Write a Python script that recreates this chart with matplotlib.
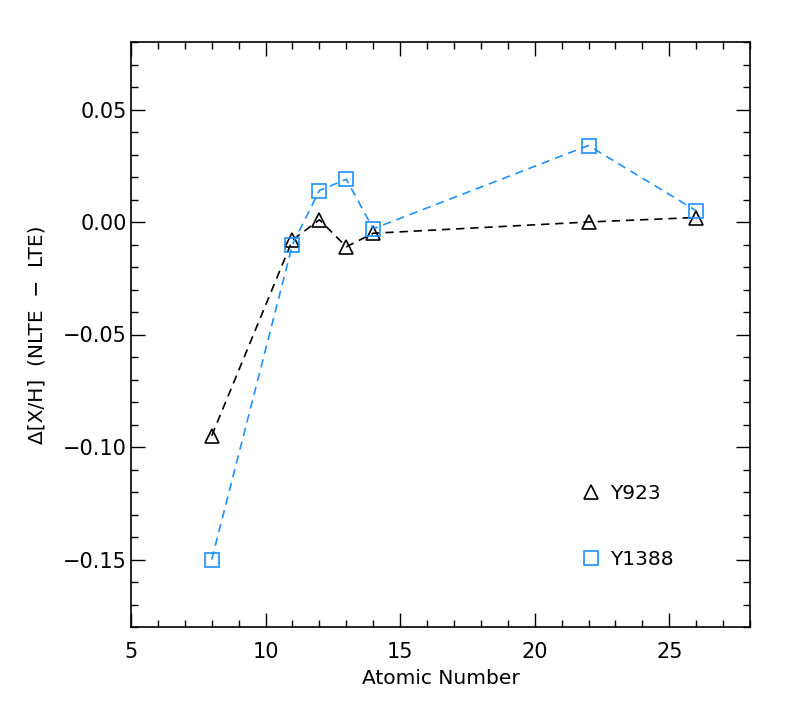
import matplotlib
matplotlib.use("Agg")
import matplotlib.pyplot as plt
from matplotlib.ticker import MultipleLocator
from matplotlib.lines import Line2D

# Data
atomic_number = [8, 11, 12, 13, 14, 22, 26]
y923 = [-0.095, -0.008, 0.001, -0.011, -0.005, 0.000, 0.002]
y1388 = [-0.150, -0.010, 0.014, 0.019, -0.003, 0.034, 0.005]
labels = ["Y923", "Y1388"]
colors = ["black", "#1E90FF"]

plt.rcParams['font.family'] = ['DejaVu Sans']
fig = plt.figure(figsize=(7.89, 7.11), dpi=100)
ax = fig.add_axes([131/789, 1-627/711, (750-131)/789, (627-42)/711])

ax.plot(atomic_number, y923, ls=(0, (5, 3.5)), lw=1.2, color=colors[0],
        marker='^', ms=10, mfc='none', mec=colors[0], mew=1.2, label=labels[0])
ax.plot(atomic_number, y1388, ls=(0, (5, 3.5)), lw=1.2, color=colors[1],
        marker='s', ms=10, mfc='none', mec=colors[1], mew=1.2, label=labels[1])

ax.set_xlim(5, 28)
ax.set_ylim(-0.18, 0.08)
ax.xaxis.set_major_locator(MultipleLocator(5))
ax.xaxis.set_minor_locator(MultipleLocator(1))
ax.yaxis.set_major_locator(MultipleLocator(0.05))
ax.yaxis.set_minor_locator(MultipleLocator(0.01))
ax.yaxis.set_major_formatter(plt.FuncFormatter(lambda v, p: f"{v:.2f}".replace("-", "\u2212")))
ax.tick_params(which='both', direction='in', top=True, right=True, width=1.0, labelsize=15)
ax.tick_params(axis='x', which='major', pad=11)
ax.tick_params(axis='y', which='major', pad=3)
ax.tick_params(which='major', length=10)
ax.tick_params(which='minor', length=5)
for s in ax.spines.values():
    s.set_linewidth(1.2)

ax.set_xlabel("Atomic Number", fontsize=14.5)
ax.xaxis.set_label_coords(0.5, -0.071)
ax.set_ylabel("\u0394[X/H]  (NLTE  \u2212  LTE)", fontsize=14.5)
ax.yaxis.set_label_coords(-0.137, 0.5)

h1 = Line2D([], [], ls='none', marker='^', ms=10, mfc='none', mec=colors[0], mew=1.2)
h2 = Line2D([], [], ls='none', marker='s', ms=10, mfc='none', mec=colors[1], mew=1.2)
ax.legend([h1, h2], labels, loc='upper left', bbox_to_anchor=(0.727, 0.245),
          frameon=False, fontsize=14.5, handlelength=1.0, handletextpad=0.45,
          labelspacing=2.35, borderpad=0, borderaxespad=0)

fig.savefig("out.png", dpi=100)
